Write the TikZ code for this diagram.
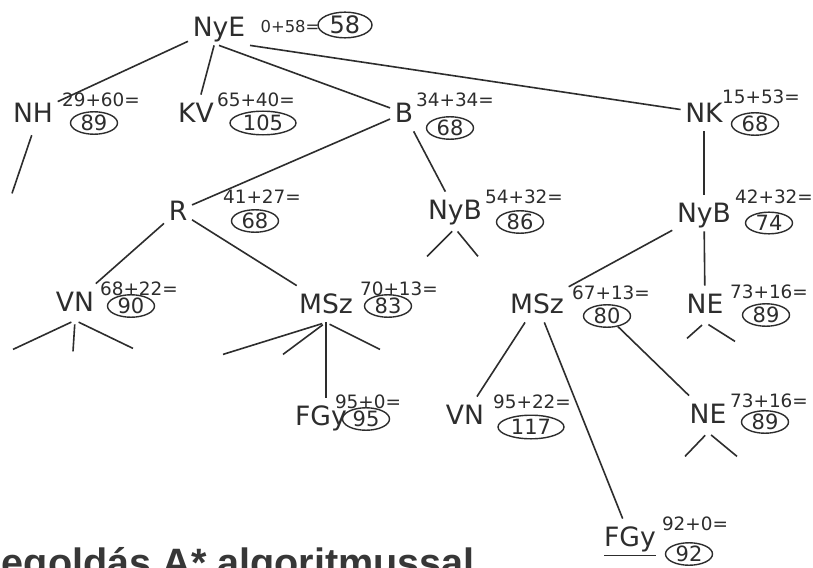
\documentclass[tikz,border=0pt]{standalone}
\usepackage{fontspec}
\setmainfont{DejaVu Sans}
\newfontfamily\titlefont{Liberation Sans}
\usepackage{xcolor}
\definecolor{ink}{RGB}{45,45,45}
\definecolor{inkgray}{RGB}{55,55,55}
\usetikzlibrary{shapes.geometric}

\begin{document}
\begin{tikzpicture}[x=0.5pt,y=-0.5pt,color=ink,line width=0.8pt,
  city/.style={font=\fontsize{13.3}{15}\selectfont,text height=9.6pt,text depth=0pt,inner xsep=2pt,inner ysep=4pt},
  cost/.style={font=\fontsize{9.2}{10}\selectfont,inner sep=0pt},
  total/.style={draw,ellipse,inner sep=0pt,minimum width=23.5pt,minimum height=10.8pt,line width=0.7pt,font=\fontsize{10.5}{11}\selectfont},
  wide/.style={minimum width=33pt,minimum height=11.8pt},
  stub/.style={shorten <=2pt}]
  \fill[white] (0,0) rectangle (813,567);
  \useasboundingbox (0,0) rectangle (813,567);
  % Root
  \node[city] (nye) at (219,27) {NyE};
  \node[cost,font=\fontsize{8.2}{9}\selectfont] (nye-c) at (290,27) {0+58=};
  \node[total,minimum width=27pt,minimum height=11.5pt,font=\fontsize{12}{13}\selectfont] (nye-f) at (345,25) {58};
  % Level 1
  \node[city] (nh) at (33,113) {NH};
  \node[cost] (nh-c) at (101,100) {29+60=};
  \node[total] (nh-f) at (94,123) {89};
  \node[city] (kv) at (196,113) {KV};
  \node[cost] (kv-c) at (256,100) {65+40=};
  \node[total,wide] (kv-f) at (263,123) {105};
  \node[city] (b) at (404,113) {B};
  \node[cost] (b-c) at (455,100) {34+34=};
  \node[total] (b-f) at (450,128) {68};
  \node[city] (nk) at (704,113) {NK};
  \node[cost] (nk-c) at (761,97) {15+53=};
  \node[total] (nk-f) at (755,124) {68};
  % Level 2
  \node[city] (r) at (178,211) {R};
  \node[cost] (r-c) at (262,197) {41+27=};
  \node[total] (r-f) at (255,221) {68};
  \node[city] (nyb1) at (455,210) {NyB};
  \node[cost] (nyb1-c) at (524,197) {54+32=};
  \node[total] (nyb1-f) at (520,222) {86};
  \node[city] (nyb2) at (704,213) {NyB};
  \node[cost] (nyb2-c) at (774,197) {42+32=};
  \node[total] (nyb2-f) at (769,223) {74};
  % Level 3
  \node[city] (vn1) at (75,302) {VN};
  \node[cost] (vn1-c) at (139,289) {68+22=};
  \node[total] (vn1-f) at (131,306) {90};
  \node[city] (msz1) at (326,304) {MSz};
  \node[cost] (msz1-c) at (399,289) {70+13=};
  \node[total] (msz1-f) at (388,306) {83};
  \node[city] (msz2) at (537,304) {MSz};
  \node[cost] (msz2-c) at (611,293) {67+13=};
  \node[total] (msz2-f) at (607,316) {80};
  \node[city] (ne1) at (705,304) {NE};
  \node[cost] (ne1-c) at (769,292) {73+16=};
  \node[total] (ne1-f) at (766,315) {89};
  % Level 4
  \node[city] (fgy1) at (321,416) {FGy};
  \node[cost] (fgy1-c) at (368,402) {95+0=};
  \node[total] (fgy1-f) at (366,419) {95};
  \node[city] (vn2) at (465,415) {VN};
  \node[cost] (vn2-c) at (532,402) {95+22=};
  \node[total,wide] (vn2-f) at (531,427) {117};
  \node[city] (ne2) at (708,414) {NE};
  \node[cost] (ne2-c) at (769,401) {73+16=};
  \node[total] (ne2-f) at (765,422) {89};
  \node[city] (fgy2) at (630,537) {\underline{FGy}};
  \node[cost] (fgy2-c) at (695,524) {92+0=};
  \node[total] (fgy2-f) at (689,554) {92};
  % Edges
  \draw (nye) -- (nh);
  \draw (nye) -- (kv);
  \draw (nye.south) -- (b);
  \draw (nye.south east) -- (nk);
  \draw (b) -- (r);
  \draw (b) -- (nyb1);
  \draw (nk) -- (nyb2);
  \draw (r) -- (vn1);
  \draw (r) -- (msz1);
  \draw (nyb2) -- (msz2);
  \draw (nyb2) -- (ne1);
  \draw (msz1.south) -- (msz1.south |- fgy1.north);
  \draw (msz2) -- (vn2);
  \draw (msz2) -- (fgy2);
  \draw (msz2-f) -- (ne2);
  % Unexpanded branches
  \draw[stub] (nh.south) -- ++(-21,62);
  \draw[stub] (nyb1.south) -- ++(-28,28);
  \draw[stub] (nyb1.south) -- ++(23,28);
  \draw[stub] (vn1.south) -- ++(-62,29);
  \draw[stub] (vn1.south) -- ++(-2,31);
  \draw[stub] (vn1.south) -- ++(58,28);
  \draw[stub] (msz1.south) -- ++(-103,32);
  \draw[stub] (msz1.south) -- ++(-43,32);
  \draw[stub] (msz1.south) -- ++(54,27);
  \draw[stub] (ne1.south) -- ++(-18,16);
  \draw[stub] (ne1.south) -- ++(30,19);
  \draw[stub] (ne2.south) -- ++(-23,24);
  \draw[stub] (ne2.south) -- ++(29,24);
  % Caption (cut by the page edge)
  \node[anchor=base west,inner sep=0pt,text=inkgray,font=\titlefont\bfseries\fontsize{19.8}{22}\selectfont] (caption) at (1,576) {egoldás A* algoritmussal};
\end{tikzpicture}
\end{document}
